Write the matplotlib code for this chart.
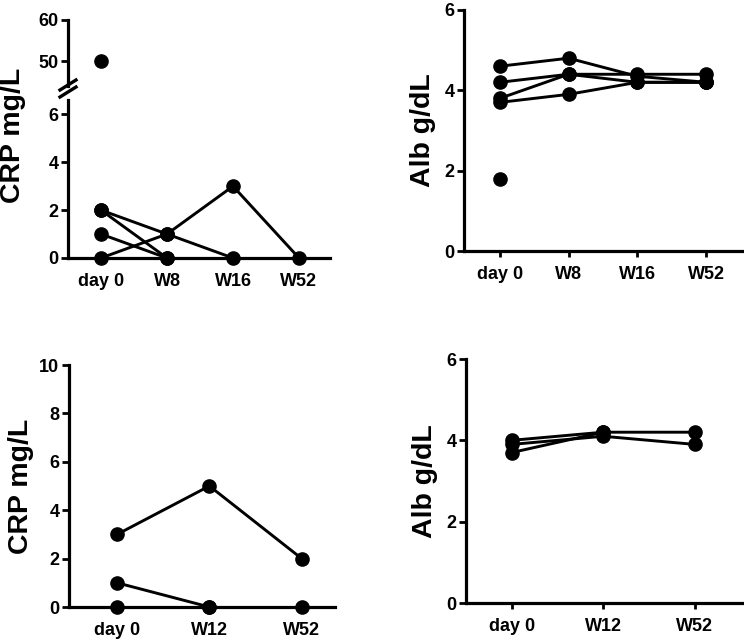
import matplotlib
matplotlib.use("Agg")
import matplotlib.pyplot as plt
import numpy as np

plt.rcParams['font.family'] = ['Liberation Sans', 'DejaVu Sans']
plt.rcParams['font.weight'] = 'bold'

nan = np.nan

# top row: visits day 0, W8, W16, W52
cats_top = ["day 0", "W8", "W16", "W52"]
crp_top = [
    [50, nan, nan, nan],
    [2, 1, 0, nan],
    [2, 0, nan, nan],
    [1, 0, nan, nan],
    [0, 1, 3, 0],
]
alb_top = [
    [4.6, 4.8, 4.35, 4.2],
    [4.2, 4.4, 4.4, 4.4],
    [3.8, 4.4, 4.2, 4.2],
    [3.7, 3.9, 4.2, 4.2],
    [1.8, nan, nan, nan],
]

# bottom row: visits day 0, W12, W52
cats_bot = ["day 0", "W12", "W52"]
crp_bot = [
    [3, 5, 2],
    [1, 0, nan],
    [0, 0, 0],
]
alb_bot = [
    [4.0, 4.2, 4.2],
    [3.9, 4.1, 3.9],
    [3.7, 4.2, nan],
]

W, H = 744, 640
fig = plt.figure(figsize=(W / 100, H / 100), dpi=100)


def box(x0, y0, x1, y1):
    # pixel box (top-left origin) -> figure fraction rect
    return [x0 / W, 1 - y1 / H, (x1 - x0) / W, (y1 - y0) / H]


def style(ax, xlim, ylim, yticks, cats):
    for s in ["top", "right"]:
        ax.spines[s].set_visible(False)
    for s in ["left", "bottom"]:
        ax.spines[s].set_linewidth(2.3)
    ax.set_xlim(*xlim)
    ax.set_ylim(*ylim)
    ax.set_yticks(yticks)
    ax.set_xticks(range(len(cats)))
    ax.set_xticklabels(cats)
    ax.tick_params(axis="both", width=2, length=5, labelsize=13, pad=2)
    ax.tick_params(axis="x", length=4, pad=7)
    for lab in ax.get_xticklabels() + ax.get_yticklabels():
        lab.set_fontweight("bold")


def draw(ax, series, lo=-1e9, hi=1e9):
    # only the values inside [lo, hi] are drawn on this axis
    for s in series:
        x = np.arange(len(s))
        y = np.array(s, dtype=float)
        m = ~np.isnan(y) & (y >= lo) & (y <= hi)
        ax.plot(x[m], y[m], color="black", lw=2.1, marker="o", ms=9.5,
                clip_on=False, zorder=5)


# top-left with broken axis
ax_lo = fig.add_axes(box(68, 100, 330, 258))
ax_hi = fig.add_axes(box(68, 20, 330, 86))
draw(ax_lo, crp_top, hi=6.6)
draw(ax_hi, crp_top, lo=44)
style(ax_lo, (-0.5, 3.47), (0, 6.6), [0, 2, 4, 6], cats_top)
style(ax_hi, (-0.5, 3.47), (44, 60), [50, 60], cats_top)
ax_hi.spines["bottom"].set_visible(False)
ax_hi.tick_params(axis="x", bottom=False, labelbottom=False)
# break marks
for dy in (0, 7):
    fig.add_artist(plt.Line2D([60 / W, 76 / W], [1 - (97 - dy) / H, 1 - (87 - dy) / H],
                              color="black", lw=2.4))
fig.text(13 / W, 1 - 135 / H, "CRP mg/L", rotation=90, va="center", ha="center",
         fontsize=20.5, fontweight="bold")

# top-right
ax2 = fig.add_axes(box(464, 10, 744, 251))
draw(ax2, alb_top)
style(ax2, (-0.52, 3.55), (0, 6), [0, 2, 4, 6], cats_top)
ax2.set_ylabel("Alb g/dL", fontsize=20.5, fontweight="bold", labelpad=6)

# bottom-left
ax3 = fig.add_axes(box(69, 365, 335, 607))
draw(ax3, crp_bot)
style(ax3, (-0.52, 2.36), (0, 10), [0, 2, 4, 6, 8, 10], cats_bot)
ax3.set_ylabel("CRP mg/L", fontsize=20.5, fontweight="bold", labelpad=4)

# bottom-right
ax4 = fig.add_axes(box(466, 359, 744, 603))
draw(ax4, alb_bot)
style(ax4, (-0.5, 2.54), (0, 6), [0, 2, 4, 6], cats_bot)
ax4.set_ylabel("Alb g/dL", fontsize=20.5, fontweight="bold", labelpad=6)

fig.savefig("out.png", dpi=100)
